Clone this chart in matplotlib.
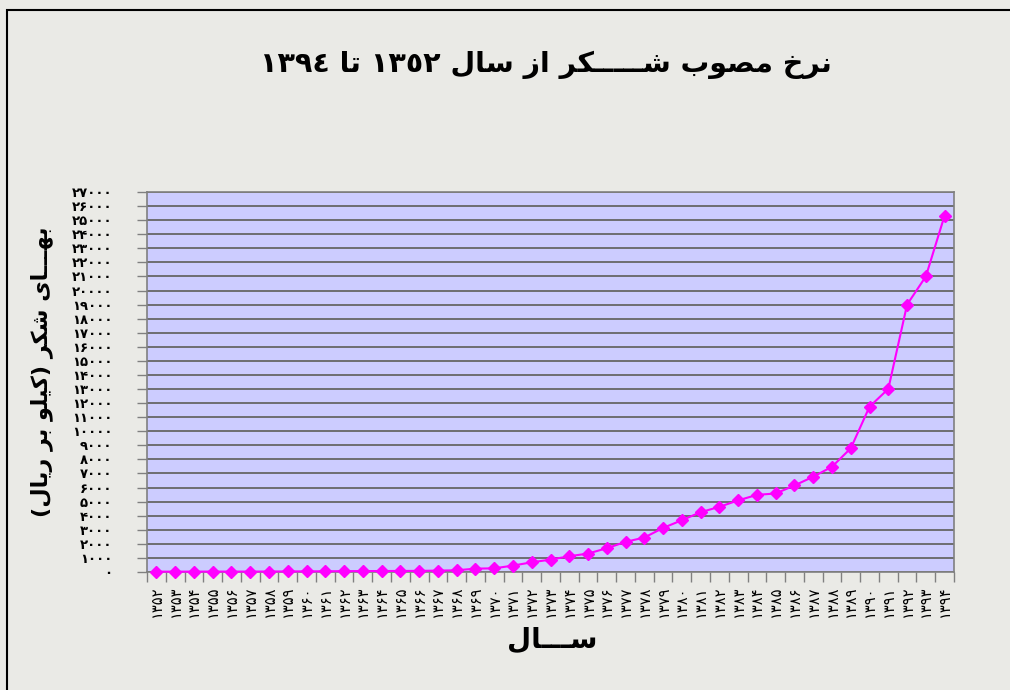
import re
import matplotlib
matplotlib.use('Agg')
import matplotlib.pyplot as plt
from matplotlib.patches import Rectangle
from matplotlib.ticker import FixedLocator

# sugar price data, 1352 .. 1394 (solar hijri)
years = list(range(1352, 1395))
prices = [25, 25, 28, 30, 30, 30, 35, 40, 45, 50, 60, 65, 70, 75, 80, 100, 120,
          240, 260, 455, 690, 880, 1120, 1310, 1690, 2140, 2450, 3130, 3680,
          4250, 4630, 5090, 5480, 5580, 6150, 6770, 7480, 8790, 11750, 13010,
          19000, 21000, 25330]
y_ticks = list(range(0, 28000, 1000))

title_text = 'نرخ مصوب شـــــکر از سال ١٣٥٢ تا ١٣٩٤'
ylabel_text = 'بهـــای شکر (کیلو بر ریال)'
xlabel_text = 'ســـال'

# arabic presentation forms: isolated, final, initial, medial
FORMS = {
    'ا': ('\uFE8D', '\uFE8E', None, None),
    'ب': ('\uFE8F', '\uFE90', '\uFE91', '\uFE92'),
    'ت': ('\uFE95', '\uFE96', '\uFE97', '\uFE98'),
    'خ': ('\uFEA5', '\uFEA6', '\uFEA7', '\uFEA8'),
    'ر': ('\uFEAD', '\uFEAE', None, None),
    'ز': ('\uFEAF', '\uFEB0', None, None),
    'س': ('\uFEB1', '\uFEB2', '\uFEB3', '\uFEB4'),
    'ش': ('\uFEB5', '\uFEB6', '\uFEB7', '\uFEB8'),
    'ص': ('\uFEB9', '\uFEBA', '\uFEBB', '\uFEBC'),
    'ل': ('\uFEDD', '\uFEDE', '\uFEDF', '\uFEE0'),
    'م': ('\uFEE1', '\uFEE2', '\uFEE3', '\uFEE4'),
    'ن': ('\uFEE5', '\uFEE6', '\uFEE7', '\uFEE8'),
    'ه': ('\uFEE9', '\uFEEA', '\uFEEB', '\uFEEC'),
    'و': ('\uFEED', '\uFEEE', None, None),
    'ک': ('\uFB8E', '\uFB8F', '\uFB90', '\uFB91'),
    'ی': ('\uFBFC', '\uFBFD', '\uFBFE', '\uFBFF'),
    'ـ': ('ـ', 'ـ', 'ـ', 'ـ'),
}
DIGITS = '0-9\u0660-\u0669\u06F0-\u06F9'
MIRROR = str.maketrans('()', ')(')


def dual(c):
    return c in FORMS and FORMS[c][2] is not None


def shape(text):
    out = []
    i = 0
    n = len(text)
    while i < n:
        c = text[i]
        if c not in FORMS:
            out.append(c)
            i += 1
            continue
        jp = i > 0 and dual(text[i - 1])
        if c == 'ل' and i + 1 < n and text[i + 1] == 'ا':
            out.append('\uFEFC' if jp else '\uFEFB')
            i += 2
            continue
        jn = dual(c) and i + 1 < n and text[i + 1] in FORMS
        iso, fin, ini, med = FORMS[c]
        if jp and jn:
            out.append(med)
        elif jp:
            out.append(fin)
        elif jn:
            out.append(ini)
        else:
            out.append(iso)
        i += 1
    return ''.join(out)


def rtl(text):
    s = shape(text)
    runs = re.findall('[%s]+|[^%s]+' % (DIGITS, DIGITS), s)
    vis = []
    for r in reversed(runs):
        if re.match('[%s]' % DIGITS, r):
            vis.append(r)
        else:
            vis.append(r[::-1].translate(MIRROR))
    return ''.join(vis)


def fa_num(v):
    return str(v).translate(str.maketrans('0123456789', '۰۱۲۳۴۵۶۷۸۹'))


def main():
    fig = plt.figure(figsize=(10.1, 6.9), dpi=100, facecolor='#eaeae6')
    # page frame (open on the right and bottom)
    fig.patches.append(Rectangle((7 / 1010, -0.05), 1.1, 1 - 10 / 690 + 0.05,
                                 transform=fig.transFigure, fill=False,
                                 edgecolor='black', linewidth=1.5))

    ax = fig.add_axes([147 / 1010, 1 - 572 / 690, 807 / 1010, 380 / 690])
    ax.set_facecolor('#ccccff')
    x = list(range(len(years)))
    ax.plot(x, prices, color='#ff00ff', linewidth=1.5, marker='D',
            markersize=6, markerfacecolor='#ff00ff', markeredgecolor='#ff00ff',
            zorder=3, clip_on=False)

    ax.set_xlim(-0.5, len(years) - 0.5)
    ax.set_ylim(0, 27000)

    ax.set_yticks(y_ticks)
    ax.set_yticklabels([fa_num(v) for v in y_ticks], fontsize=9.5,
                       fontweight='bold')
    ax.yaxis.grid(True, color='#666666', linewidth=1.3)
    ax.tick_params(axis='y', direction='out', length=7, width=1,
                   color='#808080', pad=18)

    ax.set_xticks(x)
    ax.set_xticklabels([fa_num(y) for y in years], rotation=90, fontsize=10.5)
    ax.xaxis.set_minor_locator(FixedLocator([i - 0.5 for i in range(len(years) + 1)]))
    ax.tick_params(axis='x', which='major', length=0, pad=10)
    ax.tick_params(axis='x', which='minor', direction='out', length=7,
                   width=1, color='#808080')

    for s in ax.spines.values():
        s.set_color('#808080')
        s.set_linewidth(1.2)

    fig.text(546 / 1010, 1 - 65 / 690, rtl(title_text), ha='center',
             va='center', fontsize=20.5, fontweight='bold')
    fig.text(552 / 1010, 1 - 640 / 690, rtl(xlabel_text), ha='center',
             va='center', fontsize=20, fontweight='bold')
    fig.text(42 / 1010, 1 - 372 / 690, rtl(ylabel_text), ha='center',
             va='center', rotation=90, fontsize=16, fontweight='bold')

    fig.savefig('out.png', dpi=100, facecolor=fig.get_facecolor())
    plt.close(fig)


if __name__ == '__main__':
    main()
